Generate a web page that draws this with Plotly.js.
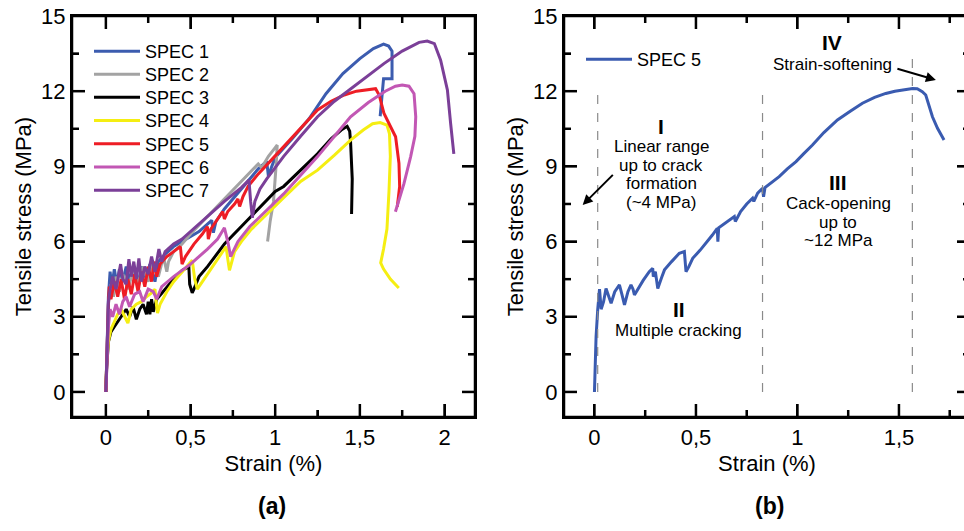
<!DOCTYPE html>
<html>
<head>
<meta charset="utf-8">
<script src="https://cdn.plot.ly/plotly-3.0.1.min.js"></script>
<style>
html,body{margin:0;padding:0;overflow:hidden;background:#fff;}
#chart{width:972px;height:531px;}
</style>
</head>
<body>
<div id="chart"></div>
<script>
// ---------- DATA (left panel: strain %, tensile stress MPa) ----------
const spec1X = [0,0.005,0.015,0.025,0.035,0.05,0.065,0.08,0.1,0.12,0.14,0.16,0.19,0.21,0.24,0.26,0.29,0.31,0.35,0.4,0.45,0.5,0.55,0.6,0.625,0.635,0.65,0.7,0.75,0.8,0.85,0.9,0.95,0.96,0.98,1.0,1.1,1.2,1.3,1.4,1.5,1.58,1.64,1.67,1.69,1.69,1.64,1.62];
const spec1Y = [0,1.5,3.8,4.8,4.2,4.9,4.3,4.9,4.4,5.0,4.5,4.9,4.3,5.0,4.5,5.1,4.4,5.2,5.5,5.8,6.0,6.2,6.4,6.7,6.85,6.35,6.8,7.3,7.7,8.1,8.5,8.9,9.2,8.6,9.0,9.35,10.1,10.9,11.9,12.7,13.3,13.7,13.88,13.8,13.6,12.5,12.5,11.0];

const spec2X = [0,0.005,0.015,0.03,0.045,0.06,0.08,0.1,0.13,0.16,0.19,0.22,0.25,0.28,0.31,0.34,0.36,0.37,0.4,0.45,0.5,0.6,0.7,0.8,0.88,0.9,0.92,0.96,1.0,1.012,1.005,0.99,0.97,0.955];
const spec2Y = [0,1.5,3.5,4.3,3.8,4.6,4.0,4.7,4.1,4.8,4.3,5.0,4.4,5.1,4.6,5.4,4.8,5.2,5.6,5.9,6.3,7.0,7.7,8.4,8.95,9.1,8.95,9.4,9.75,9.85,9.0,7.6,6.8,6.0];

const spec3X = [0,0.005,0.015,0.03,0.05,0.08,0.1,0.12,0.14,0.16,0.18,0.2,0.22,0.24,0.25,0.26,0.27,0.28,0.3,0.35,0.4,0.45,0.49,0.495,0.51,0.52,0.55,0.6,0.7,0.8,0.9,1.0,1.05,1.15,1.25,1.33,1.39,1.425,1.44,1.445,1.455,1.451];
const spec3Y = [0,1.0,2.0,2.4,2.6,2.9,3.1,3.3,3.0,3.4,2.9,3.3,3.5,3.1,3.6,3.1,3.7,3.2,3.7,4.1,4.5,4.85,5.0,4.3,3.95,4.1,4.6,5.0,5.9,6.6,7.3,8.0,8.2,8.85,9.5,10.1,10.45,10.6,10.4,10.0,8.5,7.1];

const spec4X = [0,0.005,0.015,0.03,0.05,0.07,0.09,0.11,0.13,0.15,0.18,0.21,0.24,0.27,0.29,0.3,0.305,0.32,0.36,0.4,0.45,0.5,0.51,0.525,0.54,0.58,0.63,0.68,0.71,0.72,0.73,0.76,0.8,0.855,0.95,1.05,1.15,1.25,1.35,1.445,1.52,1.575,1.62,1.66,1.675,1.68,1.672,1.66,1.64,1.623,1.64,1.68,1.73];
const spec4Y = [0,1.2,2.0,2.5,2.8,3.1,3.3,3.0,2.75,3.3,3.5,3.6,3.8,3.95,4.1,3.4,3.15,3.5,4.0,4.4,4.8,5.2,5.25,4.5,4.1,4.5,5.0,5.5,5.8,5.3,4.85,5.6,6.0,6.46,7.1,7.75,8.4,8.85,9.45,10.05,10.45,10.7,10.75,10.65,10.3,9.4,8.0,6.5,5.7,5.15,4.9,4.5,4.15];

const spec5X = [0,0.005,0.015,0.02,0.03,0.05,0.07,0.09,0.11,0.13,0.15,0.17,0.19,0.21,0.23,0.25,0.27,0.285,0.3,0.32,0.36,0.4,0.44,0.45,0.47,0.52,0.57,0.6,0.605,0.62,0.66,0.69,0.7,0.72,0.76,0.78,0.79,0.81,0.84,0.9,0.97,1.05,1.15,1.25,1.33,1.408,1.48,1.544,1.593,1.614,1.642,1.68,1.711,1.731,1.735,1.721];
const spec5Y = [0,1.5,3.5,4.2,3.7,4.4,3.8,4.5,3.7,4.5,3.9,4.7,4.0,4.8,4.2,5.0,4.4,5.2,4.6,5.1,5.4,5.6,5.8,5.1,5.4,5.9,6.3,6.6,6.1,6.5,6.9,7.2,6.9,7.2,7.5,7.7,7.4,7.8,8.2,8.7,9.2,9.79,10.5,11.25,11.6,11.85,12.0,12.07,12.1,11.85,11.12,10.6,10.18,9.12,8.2,7.39];

const spec6X = [0,0.005,0.015,0.025,0.04,0.06,0.08,0.1,0.12,0.14,0.17,0.2,0.22,0.25,0.28,0.3,0.33,0.4,0.5,0.6,0.66,0.7,0.72,0.737,0.78,0.85,0.953,1.05,1.15,1.25,1.35,1.445,1.55,1.65,1.71,1.75,1.79,1.82,1.83,1.825,1.8,1.76,1.71];
const spec6Y = [0,1.2,2.6,3.3,3.0,3.5,3.1,3.6,3.8,3.4,3.9,4.0,3.6,4.1,4.0,3.7,4.2,4.6,5.1,5.7,6.1,6.55,6.0,5.4,6.0,6.6,7.26,7.9,8.65,9.39,10.2,10.98,11.55,12.0,12.2,12.25,12.2,11.9,10.98,10.2,9.39,8.3,7.19];

const spec7X = [0,0.005,0.015,0.025,0.04,0.06,0.087,0.1,0.12,0.136,0.15,0.165,0.18,0.195,0.21,0.23,0.25,0.27,0.29,0.313,0.33,0.35,0.4,0.45,0.5,0.6,0.7,0.8,0.845,0.855,0.865,0.88,0.91,0.95,1.0,1.05,1.15,1.25,1.35,1.445,1.55,1.642,1.75,1.85,1.898,1.94,1.977,2.017,2.036,2.055];
const spec7Y = [0,1.5,3.6,4.1,4.6,4.1,5.1,4.5,4.3,5.3,4.6,5.2,4.5,5.33,4.4,5.0,4.7,5.4,4.8,5.7,5.2,5.6,5.9,6.1,6.4,7.0,7.6,8.15,8.45,7.6,6.95,7.6,8.1,8.5,8.95,9.4,10.2,10.98,11.6,12.1,12.65,13.1,13.6,13.95,14.0,13.9,13.24,12.05,10.72,9.5];

// ---------- DATA (right panel: SPEC 5 detail) ----------
const detailX = [0,0.008,0.016,0.025,0.033,0.045,0.057,0.07,0.082,0.1,0.123,0.135,0.148,0.165,0.18,0.19,0.197,0.24,0.27,0.287,0.29,0.3,0.312,0.33,0.345,0.38,0.418,0.443,0.451,0.465,0.484,0.52,0.55,0.58,0.605,0.608,0.612,0.631,0.66,0.689,0.694,0.72,0.75,0.779,0.785,0.804,0.828,0.833,0.84,0.87,0.91,0.95,0.993,1.03,1.074,1.13,1.197,1.26,1.32,1.38,1.435,1.48,1.52,1.567,1.59,1.615,1.632,1.65,1.665,1.69,1.722];
const detailY = [0,2.2,3.27,4.1,3.3,3.6,4.13,3.8,3.54,4.0,4.27,3.9,3.47,4.0,4.27,4.1,3.87,4.45,4.8,4.93,4.6,4.8,4.13,4.55,4.87,5.2,5.53,5.6,4.8,5.0,5.33,5.65,5.93,6.25,6.53,6.0,6.55,6.66,6.85,7.0,6.8,7.2,7.5,7.73,7.6,7.93,8.13,7.79,8.15,8.35,8.59,8.9,9.19,9.5,9.85,10.35,10.85,11.2,11.52,11.75,11.91,12.0,12.06,12.11,12.1,11.98,11.85,11.4,10.98,10.52,10.05];

// region boundaries (strain) and their top stress for dashed guides
const boundX = [0.016, 0.828, 1.566];
const boundTop = [11.9, 11.9, 13.5];

// tick values
const xMajorA = [0, 0.5, 1, 1.5, 2];
const xMinorA = [0.25, 0.75, 1.25, 1.75];
const xMajorB = [0, 0.5, 1, 1.5];
const xMinorB = [0.25, 0.75, 1.25, 1.75];
const yMajor = [0, 3, 6, 9, 12];
const yMinor = [1.5, 4.5, 7.5, 10.5, 13.5];

const names = ['SPEC 1','SPEC 2','SPEC 3','SPEC 4','SPEC 5','SPEC 6','SPEC 7'];
const colors = ['#3c5caf','#a3a3a3','#000000','#f5ee12','#ee1d25','#c257b4','#7b3f98'];
const xs = [spec1X,spec2X,spec3X,spec4X,spec5X,spec6X,spec7X];
const ys = [spec1Y,spec2Y,spec3Y,spec4Y,spec5Y,spec6Y,spec7Y];

const W = 972, H = 531;
const FONT = 'Arial, "Liberation Sans", sans-serif';
const legendIds = ['legend','legend2','legend3','legend4','legend5','legend6','legend7'];
const legendRowY = [50, 73, 96, 119.2, 142.5, 165.7, 189];

const traces = names.map((n,i)=>({
  x: xs[i], y: ys[i], name: n, type:'scatter', mode:'lines',
  line:{color:colors[i], width:3}, xaxis:'x', yaxis:'y', legend:legendIds[i]
}));
traces.push({x: detailX, y: detailY, name:'SPEC 5', type:'scatter', mode:'lines',
  line:{color:'#3a5bb0', width:3}, xaxis:'x2', yaxis:'y2', legend:'legend8'});

const yTop = 1-16/H, yBot = 1-417/H;

function mkAxis(extra, minorDtick, titleText, standoff){
  return Object.assign({
    showgrid:false, zeroline:false, showline:true, linecolor:'#000', linewidth:2,
    mirror:'ticks', layer:'above traces',
    ticks:'inside', ticklen:13, tickwidth:2, tickcolor:'#000',
    minor:{dtick:minorDtick, ticklen:7, tickwidth:2, tickcolor:'#000', ticks:'inside'},
    tickfont:{size:22, color:'#000', family:FONT},
    title:{text:titleText, standoff:standoff, font:{size:22, color:'#000', family:FONT}}
  }, extra);
}
const xaxis = mkAxis({domain:[72/W, 475/W], range:[-0.2,2.18], dtick:0.5, tick0:0, anchor:'y'}, 0.25, 'Strain (%)', 6);
const yaxis = mkAxis({domain:[yBot, yTop], range:[-1,15], dtick:3, tick0:0, anchor:'x'}, 1.5, 'Tensile stress (MPa)', 3);
const xaxis2 = mkAxis({domain:[564/W, 970/W], range:[-0.15,1.85], dtick:0.5, tick0:0, anchor:'y2'}, 0.25, 'Strain (%)', 6);
const yaxis2 = mkAxis({domain:[yBot, yTop], range:[-1,15], dtick:3, tick0:0, anchor:'x2'}, 1.5, 'Tensile stress (MPa)', 3);

// frame + inward ticks as shapes (placed through the axes' own scales)
const LINE = {color:'#000', width:2.5};
const shapes = [];
function frameAndTicks(xa, ya, xMaj, xMin, yMaj, yMin){
  shapes.push({type:'rect', xref:xa+' domain', yref:ya+' domain', x0:0, x1:1, y0:0, y1:1, line:LINE, fillcolor:'rgba(0,0,0,0)'});
  [[xMaj,13],[xMin,7]].forEach(([vals,len])=>vals.forEach(v=>{
    shapes.push({type:'line', xref:xa, yref:ya+' domain', x0:v, x1:v, ysizemode:'pixel', yanchor:0, y0:0, y1:len, line:LINE});
    shapes.push({type:'line', xref:xa, yref:ya+' domain', x0:v, x1:v, ysizemode:'pixel', yanchor:1, y0:0, y1:-len, line:LINE});
  }));
  [[yMaj,13],[yMin,7]].forEach(([vals,len])=>vals.forEach(v=>{
    shapes.push({type:'line', xref:xa+' domain', yref:ya, y0:v, y1:v, xsizemode:'pixel', xanchor:0, x0:0, x1:len, line:LINE});
    shapes.push({type:'line', xref:xa+' domain', yref:ya, y0:v, y1:v, xsizemode:'pixel', xanchor:1, x0:0, x1:-len, line:LINE});
  }));
}
frameAndTicks('x', 'y', xMajorA, xMinorA, yMajor, yMinor);
frameAndTicks('x2', 'y2', xMajorB, xMinorB, yMajor, yMinor);
boundX.forEach((bx,i)=>shapes.push({type:'line', xref:'x2', yref:'y2', x0:bx, x1:bx, y0:0, y1:boundTop[i],
  line:{color:'#8a8a8a', width:1.2, dash:'dash'}}));

function txt(t, x, y, size, bold){
  return {xref:'x2', yref:'y2', x:x, y:y, text: bold ? '<b>'+t+'</b>' : t, showarrow:false,
    font:{size:size, color:'#000', family:FONT}, xanchor:'center', yanchor:'middle'};
}
const annotations = [
  txt('I', 0.33, 10.6, 21, true),
  txt('Linear range', 0.33, 9.78, 17),
  txt('up to crack', 0.33, 9.05, 17),
  txt('formation', 0.33, 8.32, 17),
  txt('(~4 MPa)', 0.33, 7.57, 17),
  txt('II', 0.415, 3.3, 21, true),
  txt('Multiple cracking', 0.415, 2.45, 17),
  txt('III', 1.2, 8.35, 21, true),
  txt('Cack-opening', 1.2, 7.53, 17),
  txt('up to', 1.2, 6.77, 17),
  txt('~12 MPa', 1.2, 6.04, 17),
  txt('IV', 1.172, 13.93, 21, true),
  txt('Strain-softening', 1.172, 13.08, 17),
  {xref:'x2', yref:'y2', axref:'x2', ayref:'y2', x:-0.058, y:7.46, ax:0.098, ay:8.72, text:'',
   showarrow:true, arrowhead:2, arrowsize:1, arrowwidth:2, arrowcolor:'#000'},
  {xref:'x2', yref:'y2', axref:'x2', ayref:'y2', x:1.682, y:12.45, ax:1.485, ay:12.91, text:'',
   showarrow:true, arrowhead:2, arrowsize:1, arrowwidth:2, arrowcolor:'#000'},
  {xref:'paper', yref:'paper', x:272/W, y:1-506/H, text:'<b>(a)</b>', showarrow:false,
   font:{size:23, color:'#000', family:FONT}, xanchor:'center', yanchor:'middle'},
  {xref:'paper', yref:'paper', x:769/W, y:1-506/H, text:'<b>(b)</b>', showarrow:false,
   font:{size:23, color:'#000', family:FONT}, xanchor:'center', yanchor:'middle'}
];

function legendAt(px, rowCenter){
  return {x:px/W, y:1-(rowCenter-17)/H, xanchor:'left', yanchor:'top', bgcolor:'rgba(0,0,0,0)',
    font:{size:18, color:'#000', family:FONT}, itemwidth:46};
}

const layout = {
  width:W, height:H, margin:{l:0,r:0,t:0,b:0}, paper_bgcolor:'#fff', plot_bgcolor:'#fff',
  separators:', ', font:{family:FONT, color:'#000'},
  xaxis:xaxis, yaxis:yaxis, xaxis2:xaxis2, yaxis2:yaxis2,
  showlegend:true,
  shapes:shapes, annotations:annotations
};
legendIds.forEach((id,i)=>{ layout[id] = legendAt(89, legendRowY[i]); });
layout.legend8 = legendAt(581, 58);

Plotly.newPlot('chart', traces, layout, {displayModeBar:false});
</script>
</body>
</html>
